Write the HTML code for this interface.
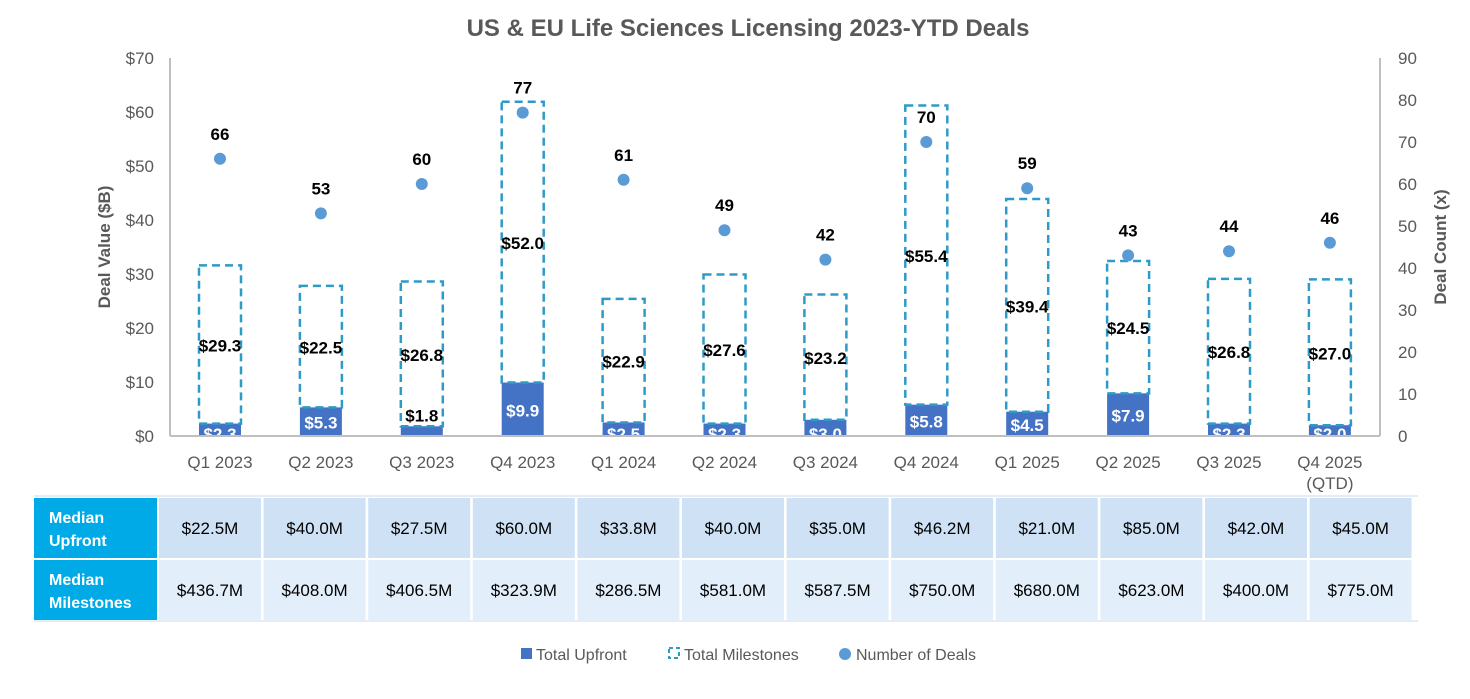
<!DOCTYPE html>
<html><head><meta charset="utf-8"><style>
body{margin:0;background:#fff;font-family:"Liberation Sans",sans-serif;}
svg text{font-family:"Liberation Sans",sans-serif;}
</style></head><body>
<svg id="c" width="1470" height="694" viewBox="0 0 1470 694"></svg>
<script>
const categories=["Q1 2023","Q2 2023","Q3 2023","Q4 2023","Q1 2024","Q2 2024","Q3 2024","Q4 2024","Q1 2025","Q2 2025","Q3 2025","Q4 2025"];
const upfront=[2.3,5.3,1.8,9.9,2.5,2.3,3.0,5.8,4.5,7.9,2.3,2.0];
const milestones=[29.3,22.5,26.8,52.0,22.9,27.6,23.2,55.4,39.4,24.5,26.8,27.0];
const deals=[66,53,60,77,61,49,42,70,59,43,44,46];
const medianUpfront=["$22.5M","$40.0M","$27.5M","$60.0M","$33.8M","$40.0M","$35.0M","$46.2M","$21.0M","$85.0M","$42.0M","$45.0M"];
const medianMilestones=["$436.7M","$408.0M","$406.5M","$323.9M","$286.5M","$581.0M","$587.5M","$750.0M","$680.0M","$623.0M","$400.0M","$775.0M"];
const leftTicks=[0,10,20,30,40,50,60,70];
const rightTicks=[0,10,20,30,40,50,60,70,80,90];

const svg=document.getElementById('c');
const NS='http://www.w3.org/2000/svg';
function mk(tag,a,txt){const e=document.createElementNS(NS,tag);for(const k in a)e.setAttribute(k,a[k]);if(txt!=null)e.textContent=txt;svg.appendChild(e);return e;}
const y0=436,yTop=58;
const yL=v=>y0-(y0-yTop)*v/70;
const yR=v=>y0-(y0-yTop)*v/90;
const xC=i=>220+i*100.9;
const bw=42;

let t=mk('text',{x:748,y:36,'text-anchor':'middle','font-size':24,'font-weight':'bold',fill:'#595959'},'US & EU Life Sciences Licensing 2023-YTD Deals');


let ax=mk('line',{x1:170,y1:58,x2:170,y2:y0,stroke:'#bfbfbf','stroke-width':2});

ax=mk('line',{x1:1380,y1:58,x2:1380,y2:y0,stroke:'#bfbfbf','stroke-width':2});

ax=mk('line',{x1:170,y1:y0,x2:1380,y2:y0,stroke:'#bfbfbf','stroke-width':2});


leftTicks.forEach(v=>{const e=mk('text',{x:154,y:yL(v)+6,'text-anchor':'end','font-size':17,fill:'#595959'},'$'+v);
});
rightTicks.forEach(v=>{const e=mk('text',{x:1398,y:yR(v)+6,'font-size':17,fill:'#595959'},String(v));
});
t=mk('text',{x:0,y:0,transform:'translate(110,247) rotate(-90)','text-anchor':'middle','font-size':17,'font-weight':'bold',fill:'#595959'},'Deal Value ($B)');

t=mk('text',{x:0,y:0,transform:'translate(1446,247) rotate(-90)','text-anchor':'middle','font-size':17,'font-weight':'bold',fill:'#595959'},'Deal Count (x)');


categories.forEach((c,i)=>{
  const x=xC(i);
  const lab=i===11?['Q4 2025','(QTD)']:[c];
  lab.forEach((l,j)=>{const e=mk('text',{x:x,y:468+j*21,'text-anchor':'middle','font-size':17,fill:'#595959'},l);
  });
  const yu=yL(upfront[i]);
  let r=mk('rect',{x:x-bw/2,y:yu,width:bw,height:y0-yu,fill:'#4472c4'});
  
  const ym=yL(upfront[i]+milestones[i]);
  r=mk('rect',{x:x-bw/2,y:ym,width:bw,height:yu-ym,fill:'none',stroke:'#2e9ac8','stroke-width':2.5,'stroke-dasharray':'8,5'});
  
  let e=mk('text',{x:x,y:(ym+yu)/2+7,'text-anchor':'middle','font-size':17,'font-weight':'bold',fill:'#000'},'$'+milestones[i].toFixed(1));
  
  const big=upfront[i]>=4;
  e=mk('text',{x:x,y:big?(yu+y0)/2+7:(i===2?yu-5:y0+4),'text-anchor':'middle','font-size':17,'font-weight':'bold',fill:(i===2?'#000':'#fff')},'$'+upfront[i].toFixed(1));
  
  const yd=yR(deals[i]);
  e=mk('circle',{cx:x,cy:yd,r:6,fill:'#5b9bd5'});
  
  e=mk('text',{x:x,y:yd-19,'text-anchor':'middle','font-size':17,'font-weight':'bold',fill:'#000'},String(deals[i]));
  
});
// cover overflow of labels below axis
let cv=mk('rect',{x:160,y:438,width:1230,height:10,fill:'#fff'});

ax=mk('line',{x1:170,y1:y0,x2:1380,y2:y0,stroke:'#bfbfbf','stroke-width':2});


// table
let l=mk('line',{x1:34,y1:496,x2:1418,y2:496,stroke:'#dbe7f3','stroke-width':1.5});

l=mk('line',{x1:34,y1:621,x2:1418,y2:621,stroke:'#dbe7f3','stroke-width':1.5});

const rows=[[498,['Median','Upfront'],medianUpfront,'#cfe2f5'],[560,['Median','Milestones'],medianMilestones,'#e2eefa']];
rows.forEach(([ry,hd,vals,col])=>{
  let h=mk('rect',{x:34,y:ry,width:123,height:60,fill:'#00aae7'});
  
  hd.forEach((s,j)=>{const e=mk('text',{x:49,y:ry+25+j*23,'font-size':16,'font-weight':'bold',fill:'#fff'},s);
  });
  vals.forEach((v,i)=>{
    const cx=159+i*104.6;
    let r=mk('rect',{x:cx,y:ry,width:102,height:60,fill:col});
    
    const e=mk('text',{x:cx+51,y:ry+36,'text-anchor':'middle','font-size':17,fill:'#000'},v);
    
  });
});

// legend
let g=mk('rect',{x:521,y:648,width:11,height:11,fill:'#4472c4'});

g=mk('text',{x:536,y:660,'font-size':16,fill:'#595959'},'Total Upfront');

g=mk('rect',{x:669,y:648,width:10,height:10,fill:'none',stroke:'#2e9ac8','stroke-width':2,'stroke-dasharray':'4,3'});

g=mk('text',{x:684,y:660,'font-size':16,fill:'#595959'},'Total Milestones');

g=mk('circle',{cx:845,cy:654,r:6,fill:'#5b9bd5'});

g=mk('text',{x:856,y:660,'font-size':16,fill:'#595959'},'Number of Deals');

</script>
</body></html>
